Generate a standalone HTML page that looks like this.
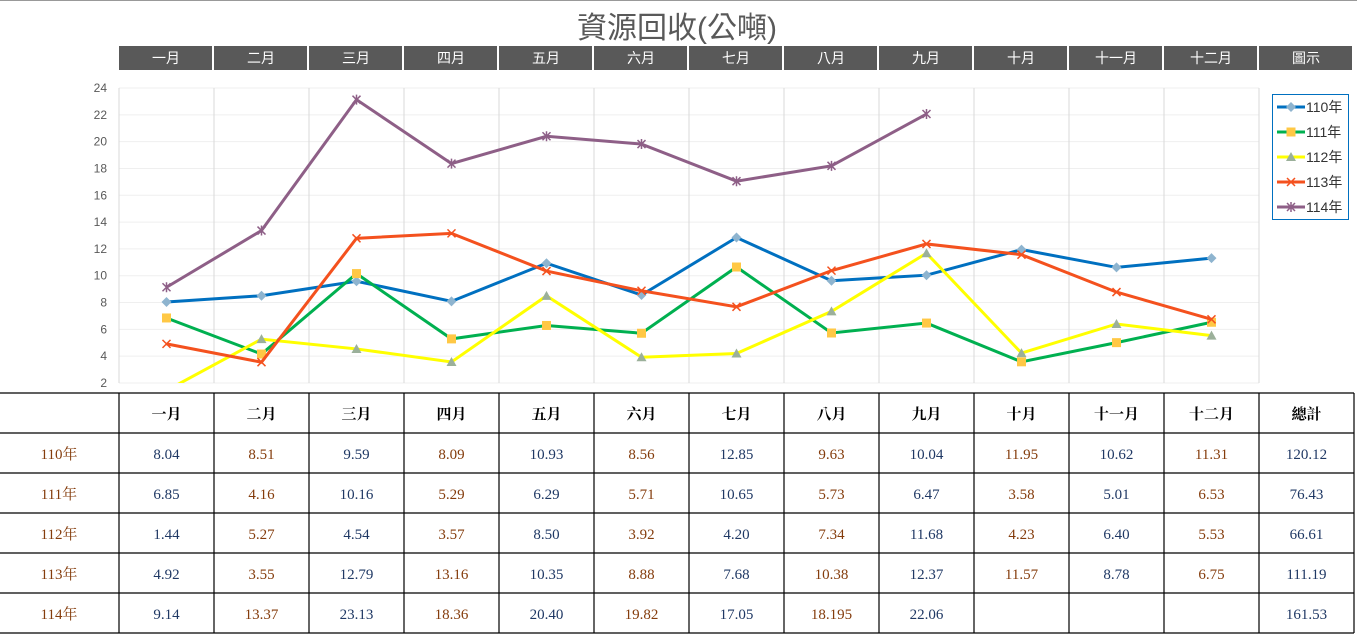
<!DOCTYPE html>
<html><head><meta charset="utf-8">
<style>
body{margin:0;background:#fff;width:1357px;height:643px;overflow:hidden;font-family:"Liberation Sans","Noto Sans CJK TC",sans-serif;}
svg{display:block}
</style></head><body>
<svg id="s" width="1357" height="643" xmlns="http://www.w3.org/2000/svg">
<line x1="0" y1="0.5" x2="1357" y2="0.5" stroke="#999"/>
<text x="677" y="38" font-size="30" fill="#595959" text-anchor="middle" font-family="Liberation Sans,Noto Sans CJK TC,sans-serif">資源回收(公噸)</text>
<g id="g"></g>
</svg>
<script>
const NS="http://www.w3.org/2000/svg",g=document.getElementById('g');
function el(t,a,txt){const e=document.createElementNS(NS,t);for(const k in a)e.setAttribute(k,a[k]);if(txt!==undefined)e.textContent=txt;g.appendChild(e);return e;}
const months=["一月","二月","三月","四月","五月","六月","七月","八月","九月","十月","十一月","十二月"];
const hdr=months.concat(["圖示"]);
for(let i=0;i<13;i++){const x=119+95*i;el('rect',{x:x,y:46,width:93,height:24,fill:'#595959'});
el('text',{x:x+47,y:63,'font-size':14,fill:'#fff','text-anchor':'middle'},hdr[i]);}
// grid
for(let v=2;v<=24;v+=2){const y=383-(v-2)*13.409;el('line',{x1:119,x2:1259,y1:y,y2:y,stroke:'#efefef'});
el('text',{x:107,y:y+4,'font-size':12,fill:'#595959','text-anchor':'end'},v);}
for(let i=0;i<=12;i++){const x=119+95*i;el('line',{x1:x,x2:x,y1:88,y2:383,stroke:'#d9d9d9'});}
const data=[
[8.04,8.51,9.59,8.09,10.93,8.56,12.85,9.63,10.04,11.95,10.62,11.31],
[6.85,4.16,10.16,5.29,6.29,5.71,10.65,5.73,6.47,3.58,5.01,6.53],
[1.44,5.27,4.54,3.57,8.50,3.92,4.20,7.34,11.68,4.23,6.40,5.53],
[4.92,3.55,12.79,13.16,10.35,8.88,7.68,10.38,12.37,11.57,8.78,6.75],
[9.14,13.37,23.13,18.36,20.40,19.82,17.05,18.195,22.06]];
const cols=['#0070c0','#00b050','#ffff00','#f4511e','#8e5f87'];
const px=i=>166.5+95*i, py=v=>383-(v-2)*13.409;
const defs=document.createElementNS(NS,'defs');defs.innerHTML='<clipPath id="c"><rect x="119" y="86" width="1140" height="297"/></clipPath>';g.appendChild(defs);
const cg=document.createElementNS(NS,'g');cg.setAttribute('clip-path','url(#c)');g.appendChild(cg);
function mk(k,x,y,par){let s='';
if(k==0)s=`<path d="M${x} ${y-5}L${x+5} ${y}L${x} ${y+5}L${x-5} ${y}Z" fill="#8eb4cf"/>`;
if(k==1)s=`<rect x="${x-4.5}" y="${y-4.5}" width="9" height="9" fill="#ffc845"/>`;
if(k==2)s=`<path d="M${x} ${y-5}L${x+5} ${y+4}L${x-5} ${y+4}Z" fill="#9bb09a"/>`;
if(k==3)s=`<path d="M${x-4} ${y-4}L${x+4} ${y+4}M${x+4} ${y-4}L${x-4} ${y+4}" stroke="#f4511e" stroke-width="1.5"/>`;
if(k==4)s=`<path d="M${x-4} ${y-4}L${x+4} ${y+4}M${x+4} ${y-4}L${x-4} ${y+4}M${x} ${y-5}L${x} ${y+5}" stroke="#8e5f87" stroke-width="1.5"/>`;
par.insertAdjacentHTML('beforeend',s);}
data.forEach((d,k)=>{const p=document.createElementNS(NS,'polyline');
p.setAttribute('points',d.map((v,i)=>px(i)+','+py(v)).join(' '));p.setAttribute('fill','none');p.setAttribute('stroke',cols[k]);p.setAttribute('stroke-width',3);cg.appendChild(p);
d.forEach((v,i)=>mk(k,px(i),py(v),cg));});
// legend
el('rect',{x:1272.5,y:94.5,width:76,height:125,fill:'#fff',stroke:'#0070c0'});
["110年","111年","112年","113年","114年"].forEach((t,k)=>{const y=107+25*k;
el('line',{x1:1277,x2:1305,y1:y,y2:y,stroke:cols[k],'stroke-width':3});mk(k,1291,y,g);
el('text',{x:1306,y:y+5,'font-size':14,fill:'#333'},t);});
// table
const tf='Liberation Serif,Noto Serif CJK TC,serif';
const rowsY=[393,433,473,513,553,593,633];
rowsY.forEach(y=>el('line',{x1:0,x2:1354,y1:y,y2:y,stroke:'#000','stroke-width':1.2}));
[119,214,309,404,499,594,689,784,879,974,1069,1164,1259,1354].forEach(x=>el('line',{x1:x,x2:x,y1:393,y2:633,stroke:'#000','stroke-width':1.2}));
months.concat(["總計"]).forEach((m,i)=>el('text',{x:166.5+95*i,y:419,'font-size':15,'font-weight':'bold','text-anchor':'middle','font-family':tf,fill:'#000'},m));
const tv=[
["8.04","8.51","9.59","8.09","10.93","8.56","12.85","9.63","10.04","11.95","10.62","11.31","120.12"],
["6.85","4.16","10.16","5.29","6.29","5.71","10.65","5.73","6.47","3.58","5.01","6.53","76.43"],
["1.44","5.27","4.54","3.57","8.50","3.92","4.20","7.34","11.68","4.23","6.40","5.53","66.61"],
["4.92","3.55","12.79","13.16","10.35","8.88","7.68","10.38","12.37","11.57","8.78","6.75","111.19"],
["9.14","13.37","23.13","18.36","20.40","19.82","17.05","18.195","22.06","","","","161.53"]];
tv.forEach((r,k)=>{const y=459+40*k;
el('text',{x:59,y:y,'font-size':15,'text-anchor':'middle','font-family':tf,fill:'#843c0c'},(110+k)+"年");
r.forEach((v,i)=>el('text',{x:166.5+95*i,y:y,'font-size':15,'text-anchor':'middle','font-family':tf,fill:(i%2? '#843c0c':'#1f3864')},v));});
</script>
</body></html>
